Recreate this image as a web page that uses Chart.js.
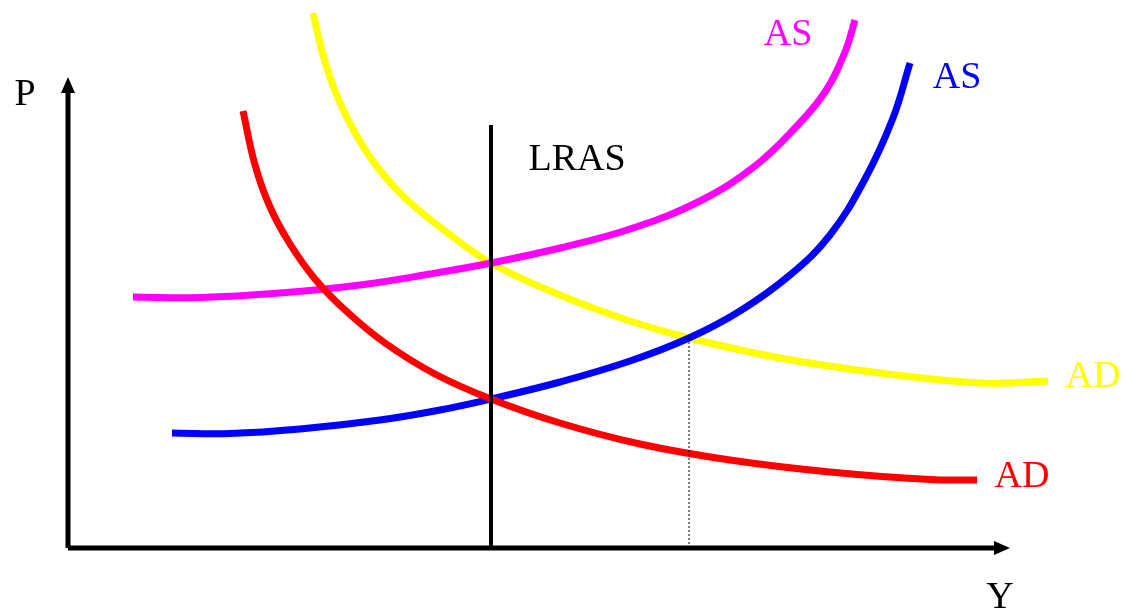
<!DOCTYPE html>
<html>
<head>
<meta charset="utf-8">
<script src="https://cdn.jsdelivr.net/npm/chart.js@4"></script>
<style>
  html, body { margin: 0; padding: 0; background: #fff; }
  #wrap { width: 1125px; height: 616px; }
</style>
</head>
<body>
<div id="wrap"><canvas id="myChart" width="1125" height="616"></canvas></div>
<script>
// curve points (Y = output, P = price level)
const asHighY = [65, 132, 212, 292, 362, 423, 492, 562, 632, 687, 727, 757, 777, 787];
const asHighP = [251, 250.5, 255, 263, 274, 285, 300, 319, 347, 382, 420, 456, 496, 528];

const asLowY = [104, 162, 232, 312, 372, 423, 492, 562, 621, 672, 722, 762, 797, 825, 842];
const asLowP = [115, 114.5, 119, 128, 138, 149, 166, 187, 210, 237, 273, 313, 369, 430, 485];

const adHighY = [245, 255, 269, 287, 310, 337, 372, 423, 492, 562, 621, 712, 812, 912, 980];
const adHighP = [535, 493, 452, 415, 380, 350, 321, 285, 253, 227, 210, 190, 175, 165, 167];

const adLowY = [175, 187, 202, 222, 247, 277, 317, 367, 423, 492, 572, 662, 762, 862, 909];
const adLowP = [437, 383, 341, 304, 269, 238, 205, 174, 149, 125, 104, 88, 76, 68.5, 68];

const lrasY = 423;
const lrasTop = 423;
const newEqY = 621;
const newEqP = 210;

const axisYEnd = 942;
const axisPEnd = 471;

// labels: text, Y, P, colour
const labels = [
  ['P', -43, 453, '#000000'],
  ['Y', 932, -50, '#000000'],
  ['AS', 720, 513, '#ff00ff'],
  ['AS', 889, 470, '#0000ff'],
  ['LRAS', 509, 388, '#000000'],
  ['AD', 1025, 171, '#ffff00'],
  ['AD', 954, 71, '#ff0000']
];

function toPoints(xs, ys) {
  return xs.map((x, i) => ({ x: x, y: ys[i] }));
}

function curve(xs, ys, color) {
  return {
    data: toPoints(xs, ys),
    borderColor: color,
    borderWidth: 7,
    showLine: true,
    pointRadius: 0,
    tension: 0.4,
    clip: false
  };
}

function straight(pts, color, width, dash) {
  return {
    data: pts,
    borderColor: color,
    borderWidth: width,
    borderDash: dash || [],
    showLine: true,
    pointRadius: 0,
    tension: 0,
    clip: false
  };
}

// arrowheads and text labels
const extrasPlugin = {
  id: 'extras',
  afterDatasetsDraw(chart) {
    const ctx = chart.ctx;
    const xs = chart.scales.x;
    const ys = chart.scales.y;
    const ox = xs.getPixelForValue(0);
    const oy = ys.getPixelForValue(0);
    const tipX = xs.getPixelForValue(axisYEnd);
    const tipY = ys.getPixelForValue(axisPEnd);

    ctx.save();
    ctx.fillStyle = '#000';
    ctx.beginPath();
    ctx.moveTo(ox, tipY);
    ctx.lineTo(ox - 7, tipY + 16);
    ctx.lineTo(ox + 7, tipY + 16);
    ctx.closePath();
    ctx.fill();

    ctx.beginPath();
    ctx.moveTo(tipX, oy);
    ctx.lineTo(tipX - 16, oy - 7);
    ctx.lineTo(tipX - 16, oy + 7);
    ctx.closePath();
    ctx.fill();

    ctx.font = '38px "Liberation Serif", "Times New Roman", serif';
    ctx.textAlign = 'center';
    ctx.textBaseline = 'middle';
    labels.forEach(l => {
      ctx.fillStyle = l[3];
      ctx.fillText(l[0], xs.getPixelForValue(l[1]), ys.getPixelForValue(l[2]));
    });
    ctx.restore();
  }
};

document.addEventListener('DOMContentLoaded', () => {
  const ctx = document.getElementById('myChart').getContext('2d');
  new Chart(ctx, {
    type: 'scatter',
    data: {
      datasets: [
        straight([{ x: 0, y: 0 }, { x: 0, y: axisPEnd - 10 }], '#000', 5),
        straight([{ x: 0, y: 0 }, { x: axisYEnd - 10, y: 0 }], '#000', 5),
        straight([{ x: newEqY, y: 0 }, { x: newEqY, y: newEqP }], '#000', 1, [2, 2]),
        straight([{ x: lrasY, y: 0 }, { x: lrasY, y: lrasTop }], '#000', 4),
        curve(adLowY, adLowP, '#ff0000'),
        curve(asHighY, asHighP, '#ff00ff'),
        curve(asLowY, asLowP, '#0000ff'),
        curve(adHighY, adHighP, '#ffff00')
      ]
    },
    options: {
      responsive: false,
      animation: false,
      layout: { padding: 0 },
      plugins: {
        legend: { display: false },
        tooltip: { enabled: false }
      },
      scales: {
        x: { type: 'linear', min: -68, max: 1057, display: false },
        y: { type: 'linear', min: -68, max: 548, display: false }
      }
    },
    plugins: [extrasPlugin]
  });
});
</script>
</body>
</html>
